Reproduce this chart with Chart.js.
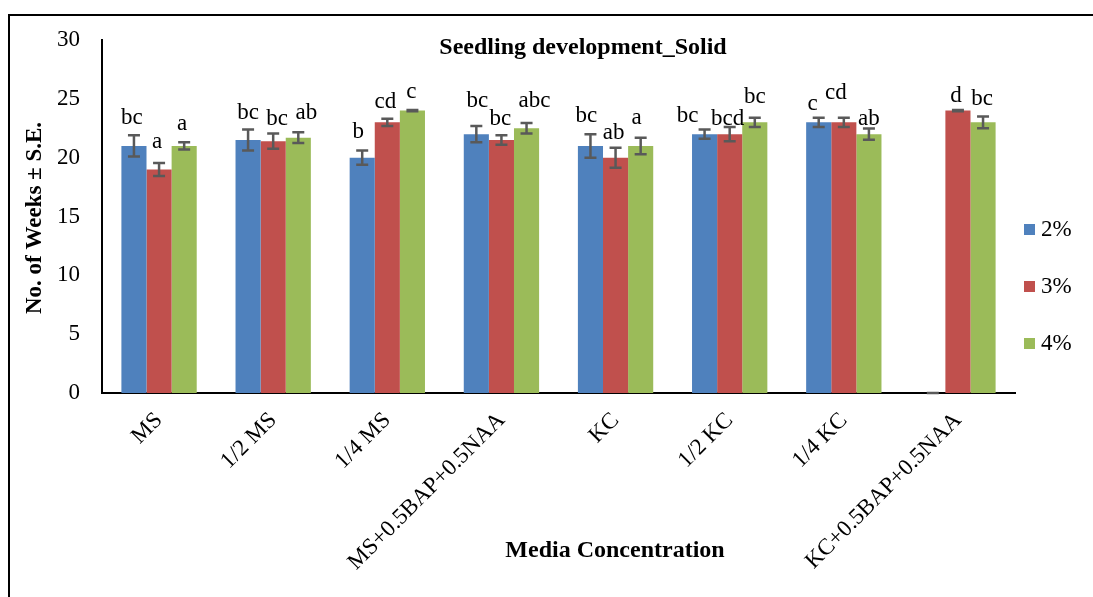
<!DOCTYPE html>
<html>
<head>
<meta charset="utf-8">
<script src="https://cdn.jsdelivr.net/npm/chart.js@4.4.1/dist/chart.umd.min.js"></script>
<style>
  html, body { margin: 0; padding: 0; background: #fff; }
  #wrap { width: 1093px; height: 597px; position: relative; }
</style>
</head>
<body>
<div id="wrap"><canvas id="chart" width="1093" height="597"></canvas></div>
<script>
// Chart data
const categories = ['MS', '1/2 MS', '1/4 MS', 'MS+0.5BAP+0.5NAA', 'KC', '1/2 KC', '1/4 KC', 'KC+0.5BAP+0.5NAA'];
const seriesNames = ['2%', '3%', '4%'];

const weeks2 = [21, 21.5, 20, 22, 21, 22, 23, 0];
const weeks3 = [19, 21.4, 23, 21.5, 20, 22, 23, 24];
const weeks4 = [21, 21.7, 24, 22.5, 21, 23, 22, 23];

const err2 = [0.9, 0.9, 0.6, 0.7, 1.0, 0.4, 0.4, 0];
const err3 = [0.55, 0.65, 0.3, 0.4, 0.85, 0.6, 0.4, 0.05];
const err4 = [0.3, 0.45, 0.05, 0.45, 0.7, 0.4, 0.47, 0.5];

const letters2 = ['bc', 'bc', 'b', 'bc', 'bc', 'bc', 'c', ''];
const letters3 = ['a', 'bc', 'cd', 'bc', 'ab', 'bcd', 'cd', 'd'];
const letters4 = ['a', 'ab', 'c', 'abc', 'a', 'bc', 'ab', 'bc'];

const yTicks = [0, 5, 10, 15, 20, 25, 30];

// colours / layout
const colors = ['#4F81BD', '#C0504D', '#9BBB59'];
const serif = "'Liberation Serif', 'Times New Roman', serif";

// small per-label nudges [dx, dyUp] in px, as in the original figure
const nudge = [
  [[-2, 0], [-2, 4], [-2, 1]],
  [[0, -1], [4, -2], [8, 2]],
  [[-4, 2], [-2, 0], [-1, 1]],
  [[1, 8], [-1, -1], [8, 5]],
  [[-4, 1], [-2, -2], [-4, 3]],
  [[-17, -4], [-2, -9], [0, 4]],
  [[-6, -3], [-8, 8], [0, -7]],
  [[0, 0], [-2, -3], [-1, 0]]
];

const allValues = [weeks2, weeks3, weeks4];
const allErrors = [err2, err3, err4];
const allLetters = [letters2, letters3, letters4];

const decorPlugin = {
  id: 'decor',
  afterDatasetsDraw(chart) {
    const ctx = chart.ctx;
    const y = chart.scales.y;
    ctx.save();
    // error bars
    ctx.strokeStyle = '#595959';
    ctx.lineWidth = 2.5;
    for (let d = 0; d < 3; d++) {
      const meta = chart.getDatasetMeta(d);
      meta.data.forEach((bar, i) => {
        const v = allValues[d][i], e = allErrors[d][i];
        const yt = y.getPixelForValue(v + e), yb = y.getPixelForValue(Math.max(0, v - e));
        ctx.beginPath();
        ctx.moveTo(bar.x, yt); ctx.lineTo(bar.x, yb);
        ctx.moveTo(bar.x - 6, yt); ctx.lineTo(bar.x + 6, yt);
        ctx.moveTo(bar.x - 6, yb); ctx.lineTo(bar.x + 6, yb);
        ctx.stroke();
      });
    }
    // significance letters
    ctx.fillStyle = '#000';
    ctx.font = '23px ' + serif;
    ctx.textAlign = 'center';
    ctx.textBaseline = 'alphabetic';
    for (let d = 0; d < 3; d++) {
      const meta = chart.getDatasetMeta(d);
      meta.data.forEach((bar, i) => {
        const txt = allLetters[d][i];
        if (!txt) return;
        const yt = y.getPixelForValue(allValues[d][i] + allErrors[d][i]);
        const n = nudge[i][d];
        ctx.fillText(txt, bar.x + n[0], yt - 11 - n[1]);
      });
    }
    ctx.restore();
  },
  afterDraw(chart) {
    const ctx = chart.ctx;
    ctx.save();
    // outer frame
    ctx.strokeStyle = '#000';
    ctx.lineWidth = 2;
    ctx.beginPath();
    ctx.moveTo(9, 600); ctx.lineTo(9, 15); ctx.lineTo(1100, 15);
    ctx.stroke();
    // chart title
    ctx.fillStyle = '#000';
    ctx.textAlign = 'center';
    ctx.textBaseline = 'middle';
    ctx.font = 'bold 24px ' + serif;
    ctx.fillText('Seedling development_Solid', 583, 48);
    // x axis title
    ctx.fillText('Media Concentration', 615, 551);
    // y axis title
    ctx.save();
    ctx.font = 'bold 23px ' + serif;
    ctx.translate(35, 218);
    ctx.rotate(-Math.PI / 2);
    ctx.fillText('No. of Weeks \u00B1 S.E.', 0, 0);
    ctx.restore();
    // legend
    ctx.font = '23px ' + serif;
    ctx.textAlign = 'left';
    seriesNames.forEach((name, k) => {
      const cy = 229 + k * 57;
      ctx.fillStyle = colors[k];
      ctx.fillRect(1024, cy - 5, 11, 11);
      ctx.fillStyle = '#000';
      ctx.fillText(name, 1041, cy + 1);
    });
    ctx.restore();
  }
};

new Chart(document.getElementById('chart'), {
  type: 'bar',
  data: {
    labels: categories,
    datasets: seriesNames.map((name, k) => ({
      label: name,
      data: allValues[k],
      backgroundColor: colors[k],
      borderWidth: 0,
      barPercentage: 1.0,
      categoryPercentage: 0.66
    }))
  },
  options: {
    responsive: false,
    animation: false,
    layout: { padding: { left: 0, top: 40, right: 78, bottom: 0 } },
    plugins: {
      legend: { display: false },
      tooltip: { enabled: false }
    },
    scales: {
      x: {
        grid: { display: false },
        border: { display: true, color: '#000', width: 2 },
        ticks: {
          color: '#000',
          font: { family: serif, size: 23 },
          minRotation: 45,
          maxRotation: 45,
          padding: 6,
          autoSkip: false
        },
        afterFit(scale) { scale.height = 204; }
      },
      y: {
        min: 0,
        max: 30,
        grid: { display: false },
        border: { display: true, color: '#000', width: 2 },
        afterBuildTicks(scale) { scale.ticks = yTicks.map(v => ({ value: v })); },
        ticks: {
          color: '#000',
          font: { family: serif, size: 23 },
          padding: 14
        },
        afterFit(scale) { scale.width = 102; }
      }
    }
  },
  plugins: [decorPlugin]
});
</script>
</body>
</html>
